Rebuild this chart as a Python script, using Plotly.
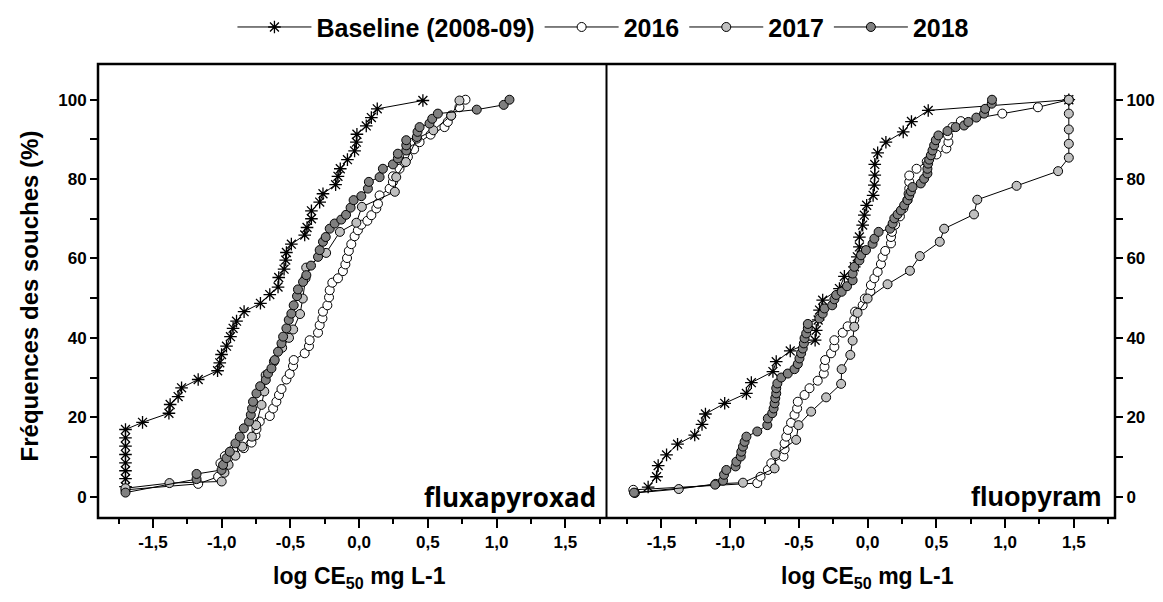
import plotly.graph_objects as go

# ---------------- data: fluxapyroxad (left panel) ----------------
flux_base_x = [-1.70, -1.70, -1.70, -1.70, -1.70, -1.70, -1.70, -1.70,
               -1.576, -1.384, -1.375, -1.317, -1.292, -1.171, -1.030, -1.014, -1.001,
               -0.965, -0.936, -0.917, -0.892, -0.837, -0.718, -0.650, -0.590, -0.585,
               -0.546, -0.534, -0.529, -0.493, -0.396, -0.379, -0.347, -0.347, -0.287,
               -0.263, -0.171, -0.154, -0.137, -0.085, -0.033, -0.020, -0.016, 0.052,
               0.089, 0.132, 0.464]
flux_base_y = [2.5, 4.5, 6.5, 8.5, 10.6, 12.7, 14.8, 16.9,
               18.7, 21.0, 23.2, 25.2, 27.4, 29.5, 31.7, 33.7, 35.8,
               37.9, 40.3, 42.4, 44.2, 46.6, 48.7, 50.9, 52.8, 55.2,
               57.3, 59.6, 61.5, 63.6, 65.9, 67.8, 70.0, 72.0, 74.2,
               76.3, 78.6, 80.7, 82.6, 84.9, 87.1, 89.3, 91.3, 93.4,
               95.5, 97.7, 99.8]

flux_2016_x = [-1.70, -1.171, -1.026, -1.009, -0.977, -0.917, -0.839, -0.783, -0.754, -0.747,
               -0.723, -0.650, -0.626, -0.602, -0.583, -0.565, -0.529, -0.505, -0.481, -0.476,
               -0.396, -0.365, -0.360, -0.299, -0.287, -0.267, -0.263, -0.231, -0.219, -0.214,
               -0.195, -0.154, -0.118, -0.100, -0.088, -0.075, -0.057, -0.033, -0.009, 0.016,
               0.060, 0.089, 0.125, 0.137, 0.149, 0.222, 0.246, 0.246, 0.294, 0.330,
               0.355, 0.400, 0.440, 0.520, 0.621, 0.645, 0.670, 0.730, 0.774]
flux_2016_y = [1.7, 3.2, 5.0, 8.4, 10.2, 11.8, 12.2, 13.6, 15.4, 17.0,
               18.9, 20.3, 22.2, 23.9, 25.6, 27.1, 29.5, 30.9, 32.9, 34.4,
               36.1, 37.9, 39.4, 41.3, 43.2, 44.9, 46.6, 48.2, 50.2, 52.0,
               53.9, 55.0, 56.8, 58.5, 60.1, 61.9, 63.6, 65.6, 67.1, 68.5,
               69.5, 70.9, 72.6, 73.8, 75.9, 77.6, 79.3, 80.7, 82.6, 84.2,
               85.6, 87.5, 89.3, 91.2, 93.1, 94.4, 96.0, 98.1, 100.0]

flux_2017_x = [-1.70, -1.38, -1.00, -0.98, -0.95, -0.90, -0.85, -0.78, -0.75, -0.71,
               -0.69, -0.68, -0.62, -0.56, -0.51, -0.48, -0.43, -0.41, -0.39, -0.385,
               -0.24, -0.14, -0.02, 0.02, 0.26, 0.27, 0.34, 0.42, 0.54, 0.67, 0.73]
flux_2017_y = [2.1, 3.4, 3.8, 6.0, 8.0, 10.3, 12.6, 15.1, 18.0, 23.1,
               26.5, 30.6, 34.0, 37.5, 40.0, 42.1, 46.0, 49.9, 55.0, 57.7,
               61.4, 66.7, 69.0, 73.0, 76.8, 80.5, 84.3, 90.2, 92.3, 96.0, 99.8]

flux_2018_x = [-1.70, -1.183, -1.183, -1.001, -0.99, -0.965, -0.941, -0.900, -0.868, -0.839,
               -0.801, -0.788, -0.779, -0.772, -0.747, -0.720, -0.679, -0.663, -0.638, -0.614,
               -0.590, -0.565, -0.553, -0.529, -0.512, -0.493, -0.476, -0.452, -0.445, -0.408,
               -0.384, -0.350, -0.299, -0.287, -0.263, -0.243, -0.214, -0.178, -0.130, -0.095,
               -0.062, -0.040, 0.016, 0.064, 0.071, 0.149, 0.173, 0.246, 0.282, 0.282,
               0.343, 0.343, 0.343, 0.420, 0.425, 0.440, 0.512, 0.532, 0.573, 0.856,
               1.052, 1.094]
flux_2018_y = [1.0, 4.4, 5.7, 6.7, 8.0, 9.7, 11.3, 13.4, 15.1, 17.2,
               18.9, 20.6, 22.2, 23.9, 26.0, 27.8, 29.4, 31.0, 32.3, 34.4,
               36.5, 38.6, 40.3, 42.4, 44.5, 46.1, 48.2, 50.5, 52.2, 54.1,
               55.8, 58.2, 60.4, 62.1, 64.2, 65.4, 67.5, 68.8, 69.8, 71.0,
               72.8, 74.7, 75.7, 77.6, 79.3, 80.5, 82.6, 83.7, 85.2, 86.4,
               87.2, 88.5, 89.8, 90.6, 91.9, 93.1, 94.0, 95.2, 96.5, 97.5,
               98.7, 100.0]

# ---------------- data: fluopyram (right panel) ----------------
fluo_base_x = [-1.597, -1.536, -1.524, -1.463, -1.383, -1.258, -1.205, -1.180, -1.040, -0.882,
               -0.846, -0.689, -0.665, -0.563, -0.382, -0.374, -0.360, -0.350, -0.327, -0.205,
               -0.169, -0.097, -0.075, -0.060, -0.060, -0.036, -0.024, -0.007, 0.040, 0.049,
               0.052, 0.052, 0.073, 0.133, 0.259, 0.319, 0.441, 1.464]
fluo_base_y = [2.4, 5.0, 7.8, 10.5, 13.2, 15.5, 18.2, 20.8, 23.5, 26.0,
               28.7, 31.5, 34.0, 36.7, 39.4, 41.9, 44.5, 47.0, 49.5, 52.4,
               55.5, 57.9, 60.4, 62.9, 65.4, 68.4, 70.9, 73.4, 75.9, 78.5,
               81.0, 83.7, 86.6, 89.3, 91.9, 94.5, 97.3, 100.0]

fluo_2016_x = [-1.705, -0.803, -0.779, -0.726, -0.701, -0.612, -0.604, -0.604, -0.592, -0.580,
               -0.557, -0.532, -0.513, -0.508, -0.459, -0.423, -0.363, -0.319, -0.314, -0.309,
               -0.266, -0.242, -0.242, -0.181, -0.145, -0.097, -0.091, -0.036, -0.020, 0.020,
               0.024, 0.049, 0.073, 0.097, 0.109, 0.128, 0.170, 0.170, 0.177, 0.200,
               0.235, 0.260, 0.290, 0.298, 0.303, 0.303, 0.303, 0.356, 0.430, 0.501,
               0.573, 0.588, 0.585, 0.617, 0.678, 0.980, 1.239, 1.464]
fluo_2016_y = [1.7, 3.4, 5.0, 6.7, 8.4, 10.1, 11.9, 13.4, 15.1, 16.8,
               18.6, 20.6, 22.2, 23.9, 25.6, 27.3, 29.2, 31.0, 32.7, 34.4,
               36.1, 37.7, 39.4, 41.3, 42.9, 44.6, 46.6, 48.2, 49.9, 51.6,
               53.3, 55.0, 56.6, 58.6, 60.4, 61.9, 63.8, 65.4, 66.7, 68.5,
               70.6, 72.6, 74.7, 76.3, 77.6, 79.3, 80.9, 82.6, 84.4, 86.2,
               87.7, 89.3, 91.0, 93.1, 94.6, 96.5, 98.1, 100.0]

fluo_2017_x = [-1.693, -1.374, -1.105, -0.907, -0.677, -0.670, -0.520, -0.503, -0.411, -0.302,
               -0.193, -0.189, -0.126, -0.109, -0.097, -0.073, 0.000, 0.145, 0.308, 0.380,
               0.525, 0.557, 0.774, 0.798, 1.084, 1.386, 1.464, 1.464, 1.464, 1.464, 1.464]
fluo_2017_y = [0.9, 1.9, 3.2, 3.5, 7.1, 10.7, 14.3, 18.0, 21.4, 25.0,
               28.4, 32.1, 35.7, 39.3, 42.8, 46.3, 49.9, 53.5, 56.9, 60.6,
               64.2, 67.5, 71.1, 74.8, 78.3, 82.0, 85.4, 88.9, 92.5, 96.5, 100.0]

fluo_2018_x = [-1.70, -1.110, -1.052, -1.045, -1.028, -0.961, -0.955, -0.923, -0.919, -0.907,
               -0.895, -0.882, -0.803, -0.730, -0.726, -0.694, -0.684, -0.677, -0.672, -0.665,
               -0.665, -0.657, -0.628, -0.581, -0.532, -0.508, -0.496, -0.484, -0.472, -0.464,
               -0.459, -0.447, -0.435, -0.435, -0.351, -0.327, -0.314, -0.258, -0.242, -0.229,
               -0.189, -0.150, -0.109, -0.109, -0.097, -0.060, -0.048, -0.012, 0.036, 0.049,
               0.080, 0.163, 0.182, 0.194, 0.218, 0.242, 0.266, 0.290, 0.303, 0.315,
               0.327, 0.387, 0.411, 0.435, 0.435, 0.440, 0.448, 0.460, 0.472, 0.484,
               0.496, 0.515, 0.581, 0.641, 0.702, 0.733, 0.791, 0.847, 0.855, 0.903, 0.905]
fluo_2018_y = [1.0, 3.0, 4.0, 5.5, 6.7, 7.6, 8.8, 10.1, 11.3, 12.6,
               13.8, 15.1, 16.4, 18.0, 19.7, 21.0, 22.2, 23.5, 24.8, 26.0,
               27.3, 28.5, 30.0, 31.0, 32.1, 33.4, 34.8, 36.1, 37.3, 38.6,
               39.9, 41.1, 42.4, 43.5, 44.9, 46.1, 47.4, 48.2, 49.7, 50.8,
               51.6, 53.0, 54.5, 56.2, 57.9, 59.5, 60.8, 62.1, 63.7, 65.0,
               66.7, 67.5, 68.8, 70.1, 71.1, 72.1, 73.4, 74.7, 75.9, 76.9,
               78.0, 78.9, 80.1, 81.4, 82.6, 83.9, 84.9, 86.0, 87.2, 88.5,
               89.8, 91.0, 92.1, 93.1, 93.5, 94.4, 95.5, 96.5, 97.7, 99.0, 100.0]

series_names = ["Baseline (2008-09)", "2016", "2017", "2018"]
x_major = [-1.5, -1.0, -0.5, 0.0, 0.5, 1.0, 1.5]
x_major_text = ["-1,5", "-1,0", "-0,5", "0,0", "0,5", "1,0", "1,5"]
x_minor = [-1.75, -1.25, -0.75, -0.25, 0.25, 0.75, 1.25, 1.75]
y_major = [0, 20, 40, 60, 80, 100]
y_minor = [10, 30, 50, 70, 90]
panel_labels = ["fluxapyroxad", "fluopyram"]
x_title = "log CE<sub>50</sub> mg L-1"
y_title = "Fréquences des souches (%)"

FONT = "Liberation Sans, Arial, sans-serif"
fills = {"2016": "white", "2017": "#c0c0c0", "2018": "#808080"}

fig = go.Figure()

panels = [
    ("x", "y", [(flux_base_x, flux_base_y), (flux_2016_x, flux_2016_y),
                (flux_2017_x, flux_2017_y), (flux_2018_x, flux_2018_y)]),
    ("x2", "y2", [(fluo_base_x, fluo_base_y), (fluo_2016_x, fluo_2016_y),
                  (fluo_2017_x, fluo_2017_y), (fluo_2018_x, fluo_2018_y)]),
]
for pi, (xa, ya, data) in enumerate(panels):
    for si, (xs, ys) in enumerate(data):
        name = series_names[si]
        if si == 0:
            marker = dict(symbol="asterisk-open", size=10.5,
                          line=dict(color="black", width=1.3), color="black")
        else:
            marker = dict(symbol="circle", size=9, color=fills[name],
                          line=dict(color="black", width=1))
        fig.add_trace(go.Scatter(
            x=xs, y=ys, mode="lines+markers", name=name,
            xaxis=xa, yaxis=ya, showlegend=(pi == 0),
            line=dict(color="black", width=1), marker=marker,
        ))

tickfont = dict(family=FONT, size=17, color="black", weight="bold")
common_x = dict(range=[-1.9, 1.8], tickmode="array", tickvals=x_major, ticktext=x_major_text,
                ticks="outside", ticklen=9, tickwidth=2, tickcolor="black",
                minor=dict(tickmode="array", tickvals=x_minor, ticks="outside", ticklen=5,
                           tickwidth=2, tickcolor="black", showgrid=False),
                showline=False, showgrid=False, zeroline=False, tickfont=tickfont)
top_x = dict(range=[-1.9, 1.8], tickmode="array", tickvals=x_major, side="top",
             ticks="inside", ticklen=9, tickwidth=2, tickcolor="black",
             minor=dict(tickmode="array", tickvals=x_minor, ticks="inside", ticklen=5,
                        tickwidth=2, tickcolor="black", showgrid=False),
             showticklabels=False, showline=False, showgrid=False, zeroline=False)
common_y = dict(range=[-5.4, 109], tickmode="array", tickvals=y_major,
                ticks="outside", ticklen=7, tickwidth=2, tickcolor="black",
                minor=dict(tickmode="array", tickvals=y_minor, ticks="outside", ticklen=7,
                           tickwidth=2, tickcolor="black", showgrid=False),
                showline=False, showgrid=False, zeroline=False,
                tickfont=dict(family=FONT, size=17, color="black", weight="bold"))

fig.update_layout(
    width=1147, height=586,
    margin=dict(l=90, r=40, t=56, b=76, autoexpand=False),
    paper_bgcolor="white", plot_bgcolor="white",
    xaxis=dict(domain=[0, 0.5], anchor="y", **common_x),
    xaxis2=dict(domain=[0.5, 1], anchor="y2", **common_x),
    xaxis3=dict(overlaying="x", anchor="y", matches="x", **top_x),
    xaxis4=dict(overlaying="x2", anchor="y2", matches="x2", **top_x),
    yaxis=dict(domain=[0, 1], anchor="x", side="left", **common_y),
    yaxis2=dict(domain=[0, 1], anchor="x2", side="right", **common_y),
    yaxis3=dict(overlaying="y", anchor="x", side="right", matches="y", range=[-5.4, 109],
                tickmode="array", tickvals=y_major + y_minor, ticks="outside", ticklen=6,
                tickwidth=2, tickcolor="black", showticklabels=False, showline=False,
                showgrid=False, zeroline=False),
    yaxis4=dict(overlaying="y2", anchor="x2", side="left", matches="y2", range=[-5.4, 109],
                tickmode="array", tickvals=y_major + y_minor, ticks="inside", ticklen=6,
                tickwidth=2, tickcolor="black", showticklabels=False, showline=False,
                showgrid=False, zeroline=False),
    legend=dict(orientation="h", x=0.497, xanchor="center", y=1.081, yanchor="middle",
                font=dict(family=FONT, size=25, color="black", weight="bold"),
                bgcolor="rgba(0,0,0,0)", itemwidth=74, tracegroupgap=0),
    showlegend=True,
)

# frame of the two panels
fig.add_shape(type="rect", xref="paper", yref="paper", x0=0, y0=0, x1=1, y1=1,
              line=dict(color="black", width=2.5), fillcolor="rgba(0,0,0,0)", layer="above")
fig.add_shape(type="line", xref="paper", yref="paper", x0=0.5, y0=0, x1=0.5, y1=1,
              line=dict(color="black", width=2), layer="above")

ann_font = dict(family=FONT, size=23, color="black", weight="bold")
fig.add_annotation(text=y_title, textangle=-90, xref="paper", yref="paper",
                   x=-0.067, y=0.49, xanchor="center", yanchor="middle",
                   showarrow=False, font=dict(family=FONT, size=24, color="black", weight="bold"))
for xr in ["x", "x2"]:
    fig.add_annotation(text=x_title, xref=xr, yref="paper", x=0, y=-0.131,
                       xanchor="center", yanchor="middle", showarrow=False, font=ann_font)
fig.add_annotation(text=panel_labels[0], xref="x domain", yref="y domain", x=0.983, y=0.047,
                   xanchor="right", yanchor="middle", showarrow=False,
                   font=dict(family="Open Sans, Liberation Sans, sans-serif", size=26,
                             color="black", weight="bold"))
fig.add_annotation(text=panel_labels[1], xref="x2 domain", yref="y2 domain", x=0.978, y=0.047,
                   xanchor="right", yanchor="middle", showarrow=False,
                   font=dict(family=FONT, size=27, color="black", weight="bold"))

fig.write_html("out.html")
